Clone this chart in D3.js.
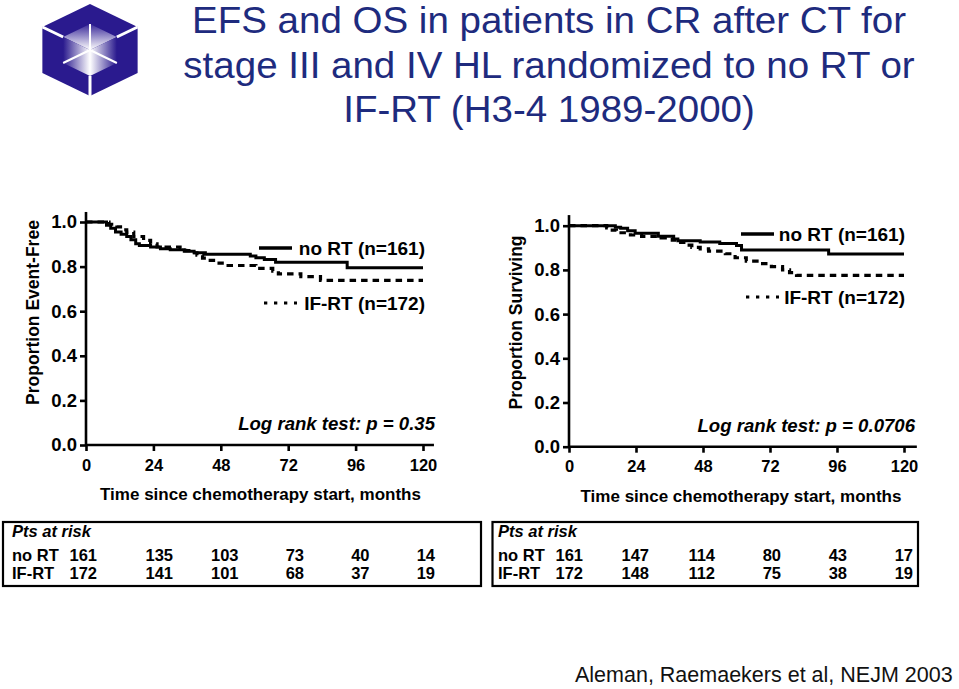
<!DOCTYPE html>
<html><head><meta charset="utf-8">
<script src="https://cdn.jsdelivr.net/npm/d3@7"></script>
<style>
body{margin:0;background:#fff}
svg{display:block}
text{font-family:Arial,"Liberation Sans",Helvetica,sans-serif}
</style>
</head><body>
<svg id="c" width="959" height="689"></svg>
<script>
// ---------------- data ----------------
const titleLines = ["EFS and OS in patients in CR after CT for",
                    "stage III and IV HL randomized to no RT or",
                    "IF-RT (H3-4 1989-2000)"];
const footer = "Aleman, Raemaekers et al, NEJM 2003";
const xTicks = [0, 24, 48, 72, 96, 120];
const yTicks = [0, 0.2, 0.4, 0.6, 0.8, 1.0];
const seriesNames = ["no RT (n=161)", "IF-RT (n=172)"];

// EFS (months, proportion event-free)
const efsNoRT = [[0,1],[7.3,0.985],[8.8,0.972],[10.5,0.955],[12.5,0.945],[14.5,0.935],[16,0.92],
  [17.7,0.902],[19,0.895],[23,0.888],[26.5,0.88],[30,0.876],[35,0.869],[38.5,0.862],[42.5,0.855],
  [58.5,0.848],[60.5,0.84],[63.5,0.832],[67.5,0.82],[93,0.795],[120,0.795]];
const efsIFRT = [[0,1],[8.2,0.99],[11,0.978],[13,0.965],[14.5,0.955],[17,0.935],[20.5,0.918],
  [23,0.902],[25.3,0.888],[33.5,0.882],[35.5,0.872],[37.5,0.862],[39.5,0.851],[41.5,0.838],
  [43.5,0.828],[46,0.816],[48.5,0.805],[60.5,0.792],[66.5,0.78],[68.5,0.767],[76.5,0.755],
  [83.5,0.738],[120,0.738]];
// OS (months, proportion surviving)
const osNoRT = [[0,1],[16.6,0.993],[18.5,0.988],[21,0.977],[23.7,0.966],[32,0.952],[37.5,0.94],
  [39,0.932],[47,0.926],[54,0.92],[60,0.91],[61.8,0.89],[93,0.872],[120,0.872]];
const osIFRT = [[0,1],[13.5,0.99],[15.5,0.98],[17,0.968],[22,0.958],[26,0.952],[33,0.945],
  [37,0.935],[40,0.925],[42,0.912],[44,0.902],[47,0.895],[50,0.885],[56,0.873],[59.5,0.855],
  [63.5,0.84],[68,0.828],[72.5,0.815],[76.5,0.8],[79,0.788],[81.5,0.775],[120,0.775]];

// patients at risk
const riskTimes = [0, 24, 48, 72, 96, 120];
const efsRiskNoRT = [161, 135, 103, 73, 40, 14];
const efsRiskIFRT = [172, 141, 101, 68, 37, 19];
const osRiskNoRT  = [161, 147, 114, 80, 43, 17];
const osRiskIFRT  = [172, 148, 112, 75, 38, 19];

// ---------------- drawing ----------------
const svg = d3.select("#c");
const navy = "#1e2b7e";
const FONT = 'Arial,"Liberation Sans",Helvetica,sans-serif';

// logo
(function logo(){
  const g = svg.append("g");
  const defs = svg.append("defs");
  const gl = defs.append("linearGradient").attr("id","gl").attr("x1","0").attr("x2","1");
  gl.append("stop").attr("offset","0").attr("stop-color","#2a1a8e");
  gl.append("stop").attr("offset","1").attr("stop-color","#ffffff");
  const gr = defs.append("linearGradient").attr("id","gr").attr("x1","0").attr("x2","1");
  gr.append("stop").attr("offset","0").attr("stop-color","#ffffff");
  gr.append("stop").attr("offset","1").attr("stop-color","#2a1a8e");
  const gt = defs.append("linearGradient").attr("id","gt").attr("x1","0").attr("y1","0").attr("x2","0").attr("y2","1");
  gt.append("stop").attr("offset","0").attr("stop-color","#3a2a9a");
  gt.append("stop").attr("offset","1").attr("stop-color","#ffffff");
  const cx = 90, cy = 50;
  const hex = (rx, ry) => d3.range(6).map(i => {
    const a = (-90 + 60*i) * Math.PI/180;
    return [cx + rx*Math.cos(a), cy + ry*Math.sin(a)];
  });
  const O = hex(55, 46), I = hex(31, 26);
  g.append("polygon").attr("points", O.join(" ")).attr("fill", "#2a1a8e");
  const C = [cx, cy];
  g.append("polygon").attr("points", [I[0], I[1], C, I[5]].join(" ")).attr("fill","url(#gt)");
  g.append("polygon").attr("points", [I[5], C, I[3], I[4]].join(" ")).attr("fill","url(#gl)");
  g.append("polygon").attr("points", [I[1], I[2], I[3], C].join(" ")).attr("fill","url(#gr)");
  g.append("polyline").attr("points", [I[0], C, I[4]].join(" ")).attr("fill","none").attr("stroke","#fff").attr("stroke-width",2);
  g.append("polyline").attr("points", [C, I[2]].join(" ")).attr("fill","none").attr("stroke","#fff").attr("stroke-width",2);
  [[O[5], I[5]], [O[1], I[1]], [O[3], I[3]]].forEach(s =>
    g.append("line").attr("x1", s[0][0]).attr("y1", s[0][1]).attr("x2", s[1][0]).attr("y2", s[1][1])
      .attr("stroke", "#fff").attr("stroke-width", 3));
})();

// title
svg.append("g").selectAll("text").data(titleLines).join("text")
  .attr("transform", (d, i) => `translate(549,${33 + i * 44.5}) scale(1.07,1)`)
  .attr("text-anchor", "middle").attr("fill", navy)
  .style("font-size", "36px").text(d => d);

// footer
svg.append("text").attr("x", 575).attr("y", 682).attr("fill", "#111")
  .style("font-size", "21.5px").text(footer);

function panel(cfg) {
  const x = d3.scaleLinear().domain([0, 120]).range([cfg.xl, cfg.xr]);
  const y = d3.scaleLinear().domain([0, 1]).range([cfg.yb, cfg.yt]);
  const g = svg.append("g");

  g.append("line").attr("x1", x(0)).attr("x2", x(0)).attr("y1", y(0)).attr("y2", y(cfg.yOver))
    .attr("stroke", "#000").attr("stroke-width", 2.6);
  g.append("line").attr("x1", x(0)).attr("x2", x(cfg.xOver)).attr("y1", y(0)).attr("y2", y(0))
    .attr("stroke", "#000").attr("stroke-width", 2.6);

  const ya = g.append("g").attr("transform", `translate(${x(0)},0)`)
    .call(d3.axisLeft(y).tickValues(yTicks).tickFormat(d3.format(".1f")).tickSize(6).tickPadding(3));
  ya.select(".domain").remove();
  ya.selectAll("line").attr("stroke-width", 2.6);
  ya.selectAll("text").attr("fill", "#000").style("font-size", "18.5px").style("font-weight", "bold")
    .style("font-family", FONT);

  const xa = g.append("g").attr("transform", `translate(0,${y(0)})`)
    .call(d3.axisBottom(x).tickValues(xTicks).tickSize(6).tickPadding(8));
  xa.select(".domain").remove();
  xa.selectAll("line").attr("stroke-width", 2.6);
  xa.selectAll("text").attr("fill", "#000").style("font-size", "16.5px").style("font-weight", "bold")
    .style("font-family", FONT);

  g.append("text").attr("transform", `translate(${cfg.ytX},${cfg.ytY}) rotate(-90)`)
    .attr("text-anchor", "middle").style("font-size", "17.5px").style("font-weight", "bold")
    .text(cfg.ytitle);
  g.append("text").attr("x", cfg.xtX).attr("y", cfg.xtY).attr("text-anchor", "middle")
    .style("font-size", "17px").style("font-weight", "bold")
    .text("Time since chemotherapy start, months");

  const line = d3.line().x(d => x(d[0])).y(d => y(d[1])).curve(d3.curveStepAfter);
  g.append("path").datum(cfg.ifrt).attr("d", line).attr("fill", "none")
    .attr("stroke", "#000").attr("stroke-width", 3.2).attr("stroke-dasharray", "6.5,5");
  g.append("path").datum(cfg.nort).attr("d", line).attr("fill", "none")
    .attr("stroke", "#000").attr("stroke-width", 3);

  const L = cfg.leg;
  g.append("line").attr("x1", L.x1).attr("x2", L.x2).attr("y1", L.y1).attr("y2", L.y1)
    .attr("stroke", "#000").attr("stroke-width", 3.4);
  g.append("line").attr("x1", L.x1 + 5).attr("x2", L.x2 + 5).attr("y1", L.y2).attr("y2", L.y2)
    .attr("stroke", "#000").attr("stroke-width", 3.2).attr("stroke-dasharray", "3.3,6.7");
  g.append("text").attr("x", L.tx).attr("y", L.y1 + 7).attr("text-anchor", "end")
    .style("font-size", "19px").style("font-weight", "bold").text(seriesNames[0]);
  g.append("text").attr("x", L.tx).attr("y", L.y2 + 7).attr("text-anchor", "end")
    .style("font-size", "19px").style("font-weight", "bold").text(seriesNames[1]);

  g.append("text").attr("x", cfg.lrX).attr("y", cfg.lrY).attr("text-anchor", "end")
    .style("font-size", "18.6px").style("font-weight", "bold").style("font-style", "italic")
    .text(cfg.logrank);

  const T = cfg.tab;
  g.append("rect").attr("x", T.x0).attr("y", T.y0).attr("width", T.x1 - T.x0).attr("height", T.y1 - T.y0)
    .attr("fill", "none").attr("stroke", "#000").attr("stroke-width", 2.2);
  g.append("text").attr("x", T.tx).attr("y", 537).style("font-size", "16.5px")
    .style("font-weight", "bold").style("font-style", "italic").text("Pts at risk");
  const col = d3.scaleLinear().domain([24, 120]).range([T.c24, T.c120]);
  const colX = t => t === 0 ? T.c0 : col(t);
  const rows = [["no RT", cfg.riskNo, 560.5], ["IF-RT", cfg.riskIf, 578.5]];
  rows.forEach(r => {
    g.append("text").attr("x", T.tx).attr("y", r[2]).style("font-size", "16.5px")
      .style("font-weight", "bold").text(r[0]);
    g.append("g").selectAll("text").data(r[1]).join("text")
      .attr("x", (d, i) => colX(riskTimes[i])).attr("y", r[2]).attr("text-anchor", "end")
      .style("font-size", "16.5px").style("font-weight", "bold").text(d => d);
  });
}

panel({
  xl: 86, xr: 423, yb: 445, yt: 222, yOver: 1.045, xOver: 123.9,
  ytitle: "Proportion Event-Free", ytX: 39, ytY: 312.5,
  xtX: 260.5, xtY: 500,
  nort: efsNoRT, ifrt: efsIFRT,
  leg: {x1: 259, x2: 292, y1: 248, y2: 303, tx: 425},
  logrank: "Log rank test: p = 0.35", lrX: 435, lrY: 430,
  tab: {x0: 3, x1: 481, y0: 522, y1: 586, tx: 12, c0: 97, c24: 173, c120: 435},
  riskNo: efsRiskNoRT, riskIf: efsRiskIFRT
});
panel({
  xl: 569, xr: 904, yb: 446.7, yt: 225.7, yOver: 1.048, xOver: 124.6,
  ytitle: "Proportion Surviving", ytX: 522, ytY: 322.5,
  xtX: 741, xtY: 502,
  nort: osNoRT, ifrt: osIFRT,
  leg: {x1: 741, x2: 774, y1: 234, y2: 297, tx: 905},
  logrank: "Log rank test: p = 0.0706", lrX: 915, lrY: 432,
  tab: {x0: 492.5, x1: 918, y0: 522, y1: 586, tx: 498, c0: 583, c24: 649, c120: 913},
  riskNo: osRiskNoRT, riskIf: osRiskIFRT
});
</script>
</body></html>
